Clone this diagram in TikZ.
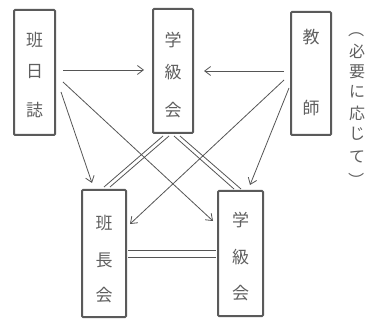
\documentclass[tikz,border=0pt]{standalone}
\usepackage{fontspec}
\newfontfamily\jp{Noto Sans CJK JP}
\usetikzlibrary{arrows.meta}
\definecolor{boxgray}{RGB}{90,90,90}
\definecolor{linegray}{RGB}{85,85,85}
\definecolor{inkgray}{RGB}{95,95,95}
\begin{document}
\begin{tikzpicture}[x=1pt,y=-1pt,
  box/.style={draw=boxgray, line width=2pt, rounded corners=1pt, inner sep=0pt},
  ch/.style={text=inkgray, font=\jp\fontsize{17}{17}\selectfont, inner sep=0pt},
  note/.style={text=inkgray, font=\jp\fontsize{16}{16}\selectfont, inner sep=0pt},
  arr/.style={draw=linegray, line width=0.8pt, -{Straight Barb[length=6pt,width=9pt]}},
  link/.style={draw=linegray, line width=0.8pt}]
\useasboundingbox (0,0) rectangle (366,320);

% boxes
\node[box, minimum width=41pt, minimum height=125pt] (diary) at (34.5,72.5) {};
\node[box, minimum width=40pt, minimum height=124pt] (classT) at (173,71) {};
\node[box, minimum width=40pt, minimum height=123pt] (teacher) at (311,73.5) {};
\node[box, minimum width=44pt, minimum height=127pt] (leaders) at (104,253.5) {};
\node[box, minimum width=45pt, minimum height=125pt] (classB) at (240.5,253.5) {};

% box captions, written top to bottom
\node[ch] at (34.5,40) {班};
\node[ch] at (34.5,72) {日};
\node[ch] at (34.5,110) {誌};
\node[ch] at (173,40) {学};
\node[ch] at (173,72) {級};
\node[ch] at (173,110) {会};
\node[ch] at (311,37) {教};
\node[ch] at (311,108) {師};
\node[ch] at (104,223) {班};
\node[ch] at (104,260) {長};
\node[ch] at (104,295) {会};
\node[ch] at (240.5,220) {学};
\node[ch] at (240.5,257) {級};
\node[ch] at (240.5,293) {会};

% side remark in vertical writing
\node[note, rotate=-90] at (357,30) {（};
\node[note] at (357,51) {必};
\node[note] at (357,72) {要};
\node[note] at (357,92) {に};
\node[note] at (357,113) {応};
\node[note] at (357,134) {じ};
\node[note] at (357,157) {て};
\node[note, rotate=-90] at (357,181) {）};

% arrows
\draw[arr] ([shift={(7,-2.5)}]diary.east) -- ([shift={(-8,-1)}]classT.west);
\draw[arr] ([shift={(-6,-2.5)}]teacher.west) -- ([shift={(10,0)}]classT.east);
\draw[arr] ([shift={(5,19.5)}]diary.east) -- ([shift={(-12,-6)}]leaders.north);
\draw[arr] ([shift={(7,9.5)}]diary.east) -- ([shift={(-4,-32.5)}]classB.west);
\draw[arr] ([shift={(-6,6.5)}]teacher.west) -- ([shift={(3,-29.5)}]leaders.east);
\draw[arr] ([shift={(-1,14.5)}]teacher.west) -- ([shift={(9.5,-5)}]classB.north);

% double links
\draw[link] ([shift={(-10,2)}]classT.south) -- ([shift={(0,-2)}]leaders.north);
\draw[link] ([shift={(-4,2)}]classT.south) -- ([shift={(6,-2)}]leaders.north);
\draw[link] ([shift={(1,2)}]classT.south) -- ([shift={(-6.5,-1)}]classB.north);
\draw[link] ([shift={(7,2)}]classT.south) -- ([shift={(0.5,-1)}]classB.north);
\draw[link] ([shift={(1,-3.5)}]leaders.east) -- ([shift={(-1,-3.5)}]classB.west);
\draw[link] ([shift={(1,3.5)}]leaders.east) -- ([shift={(-1,3.5)}]classB.west);
\end{tikzpicture}
\end{document}
